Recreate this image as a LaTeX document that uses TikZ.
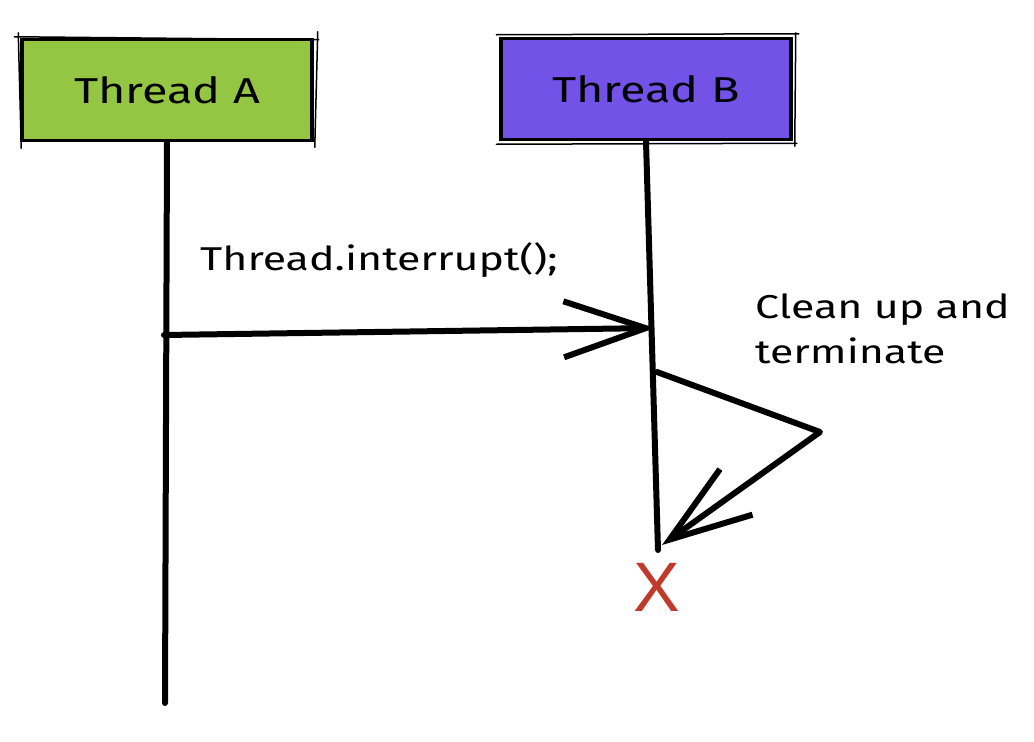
\documentclass[tikz,border=0pt]{standalone}
\usepackage{fontspec}
\setmainfont[FakeStretch=1.3]{Fira Sans}
\newfontfamily\xfont{Liberation Sans}
\usetikzlibrary{arrows.meta}
\definecolor{agreen}{HTML}{94C644}
\definecolor{bpurple}{HTML}{7352E8}
\definecolor{xred}{HTML}{C0392B}
\tikzset{
  thread/.style={draw=black, line width=3.5pt, minimum width=290pt, minimum height=101pt, inner sep=0pt,
    font=\fontsize{36}{40}\selectfont},
  sketch/.style={line width=1.5pt, line cap=round},
  lifeline/.style={line width=6pt, line cap=round},
  msg/.style={line width=6pt, line cap=round, line join=round,
    -{Straight Barb[length=82pt,width=56pt,line width=6pt]}},
  lbl/.style={font=\fontsize{33}{45}\selectfont, inner sep=0pt},
}
\begin{document}
\begin{tikzpicture}[x=1pt,y=-1pt]
\useasboundingbox (0,0) rectangle (1034,742);
\node[thread, fill=agreen] (A) at (167,90) {Thread A};
\node[thread, fill=bpurple] (B) at (646,89) {Thread B};
\draw[sketch] ([shift={(-6,-1)}]A.north west) -- ([shift={(5,2)}]A.north east);
\draw[sketch] ([shift={(4,-6)}]A.north east) -- ([shift={(1,5)}]A.south east);
\draw[sketch] ([shift={(-2,-5)}]A.north west) -- ([shift={(1,6)}]A.south west);
\draw[sketch] ([shift={(-3,-2)}]B.north west) -- ([shift={(6,-3)}]B.north east);
\draw[sketch] ([shift={(3,-4)}]B.north east) -- ([shift={(2,5)}]B.south east);
\draw[sketch] ([shift={(-3,3)}]B.south west) -- ([shift={(4,2)}]B.south east);
\coordinate (Aend) at (165,703);
\coordinate (Bend) at (658,550);
\coordinate (Amsg) at (164,335);
\coordinate (Bmsg) at (655,328);
\coordinate (Bself) at (657,372);
\coordinate (Bturn) at (820,432);
\coordinate (Btip) at (662,545);
\draw[lifeline] (A.south) -- (Aend);
\draw[lifeline] (B.south) -- (Bend);
\draw[msg] (Amsg) -- (Bmsg);
\draw[msg] (Bself) -- (Bturn) -- (Btip);
\node[lbl, anchor=west] (call) at (200,260) {Thread.interrupt();};
\node[lbl, anchor=north west, align=left] (clean) at (755,294) {Clean up and\\terminate};
\node[text=xred, font=\xfont\fontsize{70}{70}\selectfont, inner sep=0pt] (X) at (657,587) {X};
\end{tikzpicture}
\end{document}
